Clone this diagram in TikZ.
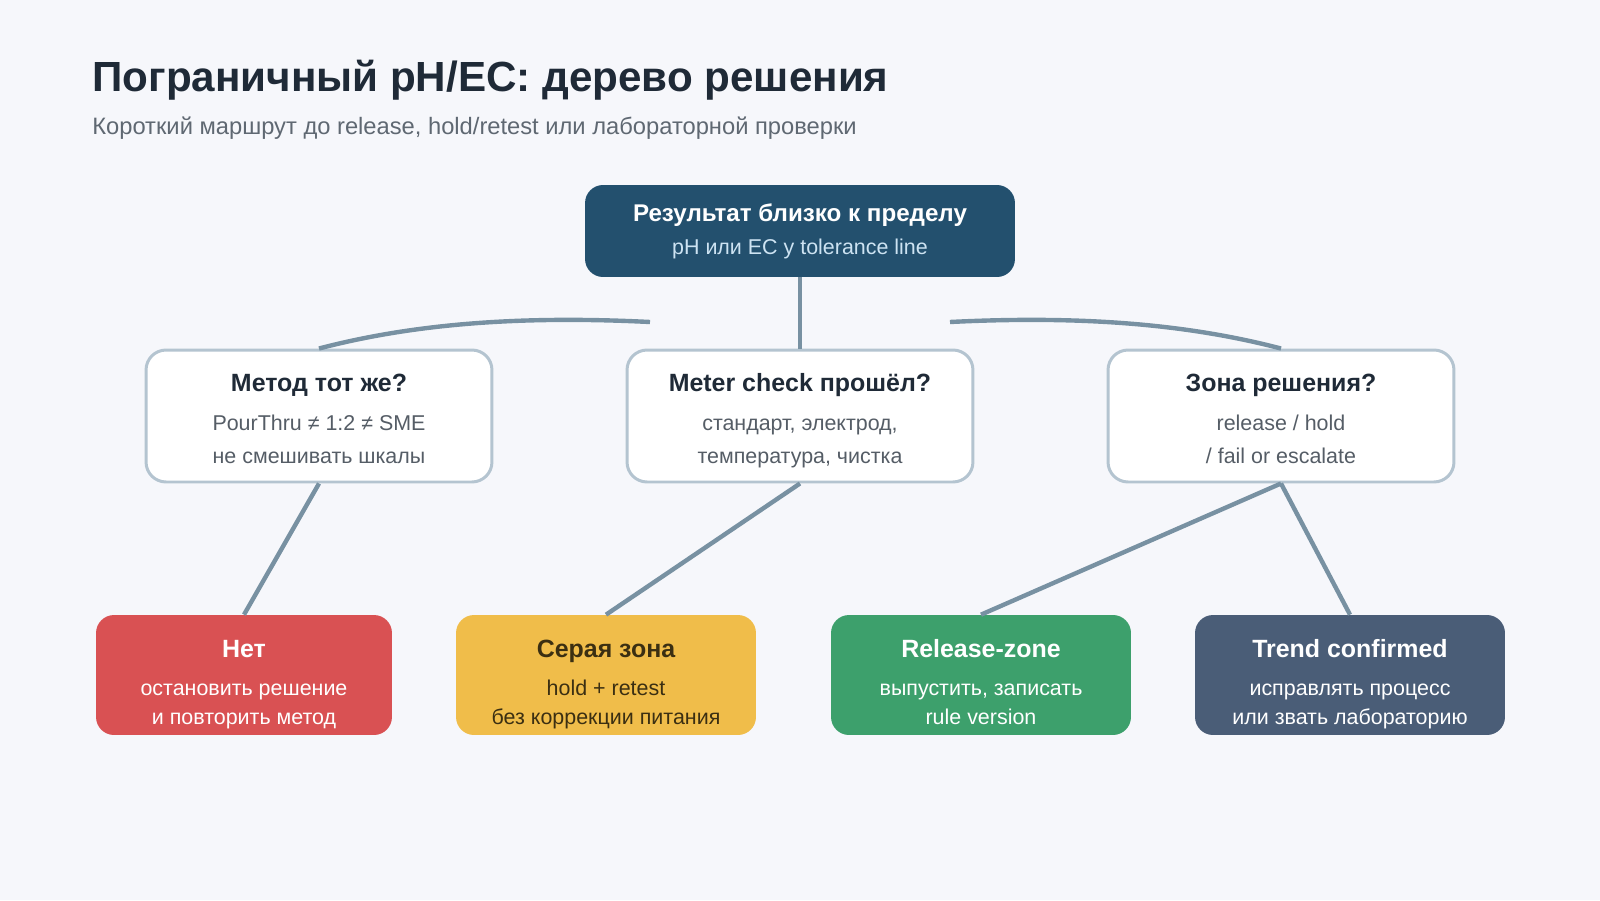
\documentclass[tikz,border=0pt]{standalone}
\usepackage{fontspec}
\setmainfont{Liberation Sans}

\definecolor{pagebg}{HTML}{F6F7FB}
\definecolor{inkdark}{HTML}{1F2A37}
\definecolor{inkgrey}{HTML}{5F6872}
\definecolor{rootblue}{HTML}{23506E}
\definecolor{rootsub}{HTML}{CDE3F2}
\definecolor{askline}{HTML}{B4C4D0}
\definecolor{askbody}{HTML}{555D66}
\definecolor{edgegrey}{HTML}{7891A2}
\definecolor{nored}{HTML}{D95153}
\definecolor{zoneyellow}{HTML}{F0BD4A}
\definecolor{zoneink}{HTML}{3B2F12}
\definecolor{relgreen}{HTML}{3DA06C}
\definecolor{trendslate}{HTML}{4A5D77}

\begin{document}
\begin{tikzpicture}
[
	x=0.02cm,
	y=-0.02cm,
	box/.style={inner sep=0pt,rounded corners=0.36cm},
	rootbox/.style={box,fill=rootblue,minimum width=8.6cm,minimum height=1.84cm},
	askbox/.style={box,draw=askline,line width=1.7pt,fill=white,rounded corners=0.4cm,minimum width=6.92cm,minimum height=2.64cm},
	leafbox/.style={box,minimum height=2.4cm},
	row/.style={inner sep=0pt,text height=1.6ex,text depth=0.4ex},
	head/.style={row,font=\fontsize{14.2}{17}\selectfont\bfseries},
	body/.style={row,font=\fontsize{12.2}{15}\selectfont},
	edge/.style={draw=edgegrey,line width=2.5pt}
]

	% page
	\useasboundingbox[fill=pagebg] (0,0) rectangle (1600,900);

	% heading
	\node[row,anchor=west,inkdark,font=\fontsize{24}{29}\selectfont\bfseries] (title) at (92,86) {Пограничный pH/EC: дерево решения};
	\node[row,anchor=west,inkgrey,font=\fontsize{13.5}{16}\selectfont] (subtitle) at (92,129) {Короткий маршрут до release, hold/retest или лабораторной проверки};

	% boxes
	\node[rootbox] (root) at (800,231) {};
	\node[askbox] (method) at (319,416) {};
	\node[askbox] (meter) at (800,416) {};
	\node[askbox] (zone) at (1281,416) {};
	\node[leafbox,fill=nored,minimum width=5.92cm] (no) at (244,675) {};
	\node[leafbox,fill=zoneyellow,minimum width=6cm] (grey) at (606,675) {};
	\node[leafbox,fill=relgreen,minimum width=6cm] (release) at (981,675) {};
	\node[leafbox,fill=trendslate,minimum width=6.2cm] (trend) at (1350,675) {};

	% connectors
	\coordinate (lcut) at (650,322);
	\coordinate (rcut) at (950,322);
	\draw[edge] (root.south) -- (meter.north);
	\draw[edge] (method.north) .. controls (420,322) and (530,316) .. (lcut);
	\draw[edge] (zone.north) .. controls (1180,322) and (1070,316) .. (rcut);
	\draw[edge] (method.south) -- (no.north);
	\draw[edge] (meter.south) -- (grey.north);
	\draw[edge] (zone.south) -- (release.north);
	\draw[edge] (zone.south) -- (trend.north);

	% texts
	\node[head,white,font=\fontsize{13.75}{17}\selectfont\bfseries] (root-h) at (800,216) {Результат близко к пределу};
	\node[body,rootsub] (root-b) at (800,249) {pH или EC у tolerance line};

	\node[head,inkdark] (method-h) at (319,386) {Метод тот же?};
	\node[body,askbody] (method-a) at (319,425) {PourThru ≠ 1:2 ≠ SME};
	\node[body,askbody] (method-b) at (319,458) {не смешивать шкалы};

	\node[head,inkdark] (meter-h) at (800,386) {Meter check прошёл?};
	\node[body,askbody] (meter-a) at (800,425) {стандарт, электрод,};
	\node[body,askbody] (meter-b) at (800,458) {температура, чистка};

	\node[head,inkdark] (zone-h) at (1281,386) {Зона решения?};
	\node[body,askbody] (zone-a) at (1281,425) {release / hold};
	\node[body,askbody] (zone-b) at (1281,458) {/ fail or escalate};

	\node[head,white] (no-h) at (244,652) {Нет};
	\node[body,white] (no-a) at (244,690) {остановить решение};
	\node[body,white] (no-b) at (244,719) {и повторить метод};

	\node[head,zoneink] (grey-h) at (606,652) {Серая зона};
	\node[body,zoneink] (grey-a) at (606,690) {hold + retest};
	\node[body,zoneink] (grey-b) at (606,719) {без коррекции питания};

	\node[head,white] (release-h) at (981,652) {Release-zone};
	\node[body,white] (release-a) at (981,690) {выпустить, записать};
	\node[body,white] (release-b) at (981,719) {rule version};

	\node[head,white] (trend-h) at (1350,652) {Trend confirmed};
	\node[body,white] (trend-a) at (1350,690) {исправлять процесс};
	\node[body,white] (trend-b) at (1350,719) {или звать лабораторию};

\end{tikzpicture}
\end{document}
